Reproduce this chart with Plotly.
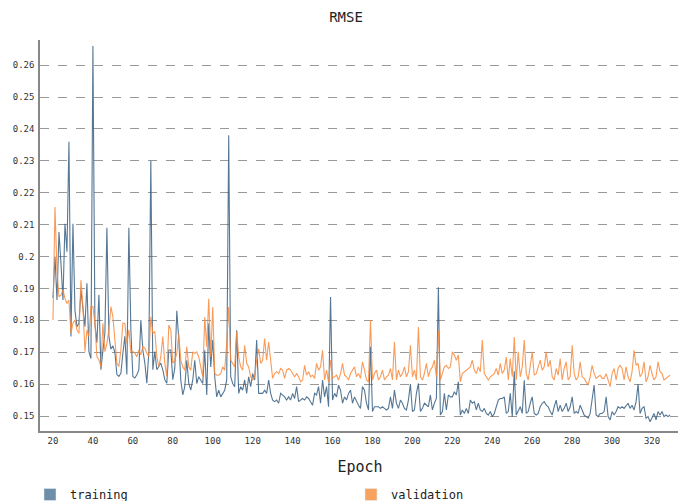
import plotly.graph_objects as go

start_epoch = 20

training = [
    0.187, 0.200, 0.1864, 0.2077, 0.1978, 0.1864, 0.2103, 0.2015, 0.236, 0.1749,
    0.2103, 0.1832, 0.178, 0.1791, 0.1895, 0.1832, 0.178, 0.1916, 0.1702, 0.168,
    0.266, 0.179, 0.173, 0.188, 0.1645, 0.1705, 0.176, 0.209, 0.175, 0.171,
    0.172, 0.170, 0.163, 0.1624, 0.1634, 0.1697, 0.175, 0.163, 0.209, 0.177,
    0.1624, 0.1619, 0.1629, 0.1645, 0.1801, 0.1707, 0.1666, 0.1603, 0.1702, 0.230,
    0.1645, 0.1702, 0.1645, 0.1655, 0.1666, 0.1645, 0.1614, 0.1603, 0.1707, 0.1707,
    0.1614, 0.165, 0.183, 0.174, 0.1613, 0.1566, 0.1592, 0.1675, 0.1602, 0.1581,
    0.1613, 0.1675, 0.1602, 0.1623, 0.1613, 0.1602, 0.1706, 0.1566, 0.179, 0.1654,
    0.1738, 0.1623, 0.156, 0.1581, 0.156, 0.1571, 0.1581, 0.1613, 0.238, 0.1623,
    0.1602, 0.1592, 0.1769, 0.1571, 0.1592, 0.1581, 0.1613, 0.1571, 0.1623, 0.1592,
    0.1633, 0.1613, 0.1738, 0.1571, 0.1571, 0.1571, 0.1581, 0.1571, 0.1613, 0.1571,
    0.155, 0.1545, 0.155, 0.154, 0.1571, 0.1566, 0.156, 0.155, 0.156, 0.155,
    0.1571, 0.1555, 0.1592, 0.1545, 0.155, 0.1555, 0.155, 0.156, 0.1555, 0.1545,
    0.1534, 0.1571, 0.1566, 0.1592, 0.154, 0.1613, 0.156, 0.1592, 0.1529, 0.1873,
    0.155, 0.1571, 0.156, 0.1597, 0.1581, 0.154, 0.156, 0.155, 0.1571, 0.1581,
    0.154, 0.156, 0.1545, 0.1534, 0.1524, 0.1592, 0.1581, 0.154, 0.1519, 0.1717,
    0.1514, 0.1529, 0.1529, 0.1529, 0.1524, 0.1529, 0.1524, 0.1519, 0.1524, 0.156,
    0.1524, 0.1581, 0.154, 0.1524, 0.155, 0.154, 0.1524, 0.1519, 0.155, 0.160,
    0.1514, 0.1519, 0.1571, 0.1602, 0.1514, 0.1524, 0.154, 0.1534, 0.1529, 0.1566,
    0.1519, 0.154, 0.1555, 0.1904, 0.1503, 0.1514, 0.1571, 0.1519, 0.1566, 0.156,
    0.156, 0.1576, 0.1566, 0.1607, 0.1503, 0.1519, 0.1508, 0.1524, 0.1508, 0.155,
    0.154, 0.1545, 0.1519, 0.154, 0.1519, 0.1514, 0.1524, 0.1508, 0.1503, 0.1514,
    0.1498, 0.1508, 0.1534, 0.155, 0.1555, 0.1555, 0.156, 0.1508, 0.1514, 0.1571,
    0.1498, 0.164, 0.1503, 0.1514, 0.1529, 0.1508, 0.1612, 0.1508, 0.1514, 0.154,
    0.156, 0.1508, 0.1503, 0.1508, 0.1529, 0.154, 0.1545, 0.1534, 0.1529, 0.1514,
    0.1503, 0.1529, 0.155, 0.1514, 0.1534, 0.1514, 0.1524, 0.154, 0.1514, 0.1529,
    0.156, 0.1508, 0.1514, 0.1508, 0.1534, 0.1519, 0.1503, 0.1498, 0.1493, 0.1508,
    0.155, 0.1597, 0.1503, 0.1498, 0.1508, 0.1508, 0.1514, 0.156, 0.1498, 0.1488,
    0.1514, 0.1503, 0.1514, 0.1529, 0.1524, 0.1529, 0.1524, 0.1534, 0.154, 0.1524,
    0.1534, 0.1519, 0.1545, 0.160, 0.1508, 0.1524, 0.1529, 0.1493, 0.1498, 0.1482,
    0.1493, 0.1508, 0.1488, 0.1514, 0.1503, 0.1514, 0.1498, 0.1503, 0.1498, 0.1503,
]

validation = [
    0.1801, 0.2155, 0.1957, 0.1874, 0.1879, 0.1895, 0.1869, 0.1853, 0.1864, 0.1759,
    0.1791, 0.1801, 0.177, 0.1759, 0.1926, 0.1843, 0.1702, 0.177, 0.1749, 0.1843,
    0.1843, 0.1791, 0.1686, 0.1676, 0.1655, 0.1791, 0.1702, 0.1728, 0.177, 0.1843,
    0.1811, 0.1728, 0.1666, 0.1655, 0.1707, 0.1791, 0.1791, 0.1728, 0.177, 0.1702,
    0.1702, 0.1697, 0.1686, 0.1707, 0.1692, 0.1718, 0.1713, 0.1697, 0.1686, 0.1811,
    0.1759, 0.1765, 0.1686, 0.1655, 0.1686, 0.1749, 0.1666, 0.1624, 0.1785, 0.177,
    0.1666, 0.1675, 0.1696, 0.1758, 0.1675, 0.1654, 0.1644, 0.1717, 0.1654, 0.1644,
    0.1701, 0.1696, 0.1701, 0.1685, 0.1654, 0.1623, 0.181, 0.1717, 0.1868, 0.1685,
    0.1842, 0.1633, 0.1628, 0.1628, 0.1633, 0.1654, 0.1644, 0.1727, 0.1842, 0.1675,
    0.1665, 0.1654, 0.1764, 0.1685, 0.1654, 0.1644, 0.1722, 0.1665, 0.1654, 0.1623,
    0.1613, 0.1623, 0.1675, 0.1711, 0.1665, 0.1675, 0.1743, 0.1675, 0.1732, 0.1665,
    0.1618, 0.1633, 0.1639, 0.1633, 0.1649, 0.1644, 0.1618, 0.1644, 0.1649, 0.1644,
    0.1633, 0.1623, 0.1633, 0.1623, 0.1607, 0.1613, 0.1659, 0.1628, 0.1639, 0.1623,
    0.1628, 0.1618, 0.1665, 0.1644, 0.1654, 0.1706, 0.1613, 0.1644, 0.1607, 0.1675,
    0.1618, 0.1623, 0.1628, 0.1613, 0.1633, 0.1665, 0.1628, 0.1623, 0.1613, 0.1633,
    0.1644, 0.1654, 0.1623, 0.1633, 0.1618, 0.167, 0.1644, 0.1613, 0.1607, 0.180,
    0.1613, 0.1633, 0.1644, 0.1613, 0.1623, 0.1644, 0.1613, 0.1623, 0.1628, 0.1649,
    0.1613, 0.1732, 0.1613, 0.1644, 0.1623, 0.1633, 0.1654, 0.1623, 0.1639, 0.1722,
    0.1623, 0.1644, 0.1613, 0.1779, 0.1623, 0.1613, 0.1633, 0.1665, 0.1623, 0.1644,
    0.1654, 0.1675, 0.1623, 0.1769, 0.1613, 0.1633, 0.1654, 0.1659, 0.1649, 0.1654,
    0.1701, 0.1691, 0.1675, 0.1691, 0.1607, 0.1633, 0.1639, 0.1644, 0.1649, 0.1654,
    0.1675, 0.1644, 0.1633, 0.1654, 0.1639, 0.1738, 0.1633, 0.1623, 0.1613, 0.1623,
    0.1628, 0.1633, 0.1649, 0.1628, 0.1665, 0.1633, 0.1644, 0.1685, 0.1613, 0.168,
    0.1623, 0.1748, 0.1613, 0.1701, 0.1623, 0.1654, 0.1738, 0.1633, 0.1613, 0.1654,
    0.1701, 0.1628, 0.1633, 0.1654, 0.1675, 0.1644, 0.1654, 0.1701, 0.1654, 0.1675,
    0.1623, 0.1613, 0.1649, 0.1628, 0.168, 0.1613, 0.1649, 0.167, 0.1613, 0.1623,
    0.1722, 0.1633, 0.1613, 0.1623, 0.167, 0.1623, 0.1618, 0.1607, 0.1597, 0.1623,
    0.1659, 0.1633, 0.1618, 0.1623, 0.1628, 0.1618, 0.1618, 0.1633, 0.1613, 0.1592,
    0.1633, 0.1649, 0.1613, 0.1649, 0.1659, 0.1649, 0.1613, 0.1654, 0.1623, 0.1607,
    0.1639, 0.1706, 0.1659, 0.1665, 0.1623, 0.1633, 0.167, 0.1607, 0.1623, 0.1659,
    0.1633, 0.1613, 0.1623, 0.167, 0.1639, 0.1633, 0.1613, 0.1618, 0.1623, 0.1628,
]

x_ticks = [20, 40, 60, 80, 100, 120, 140, 160, 180, 200, 220, 240, 260, 280, 300, 320]
y_ticks = [0.15, 0.16, 0.17, 0.18, 0.19, 0.2, 0.21, 0.22, 0.23, 0.24, 0.25, 0.26]

epochs_train = list(range(start_epoch, start_epoch + len(training)))
epochs_val = list(range(start_epoch, start_epoch + len(validation)))

FONT = "DejaVu Sans Mono"
train_line = "rgba(55,95,130,0.85)"
val_line = "rgba(248,138,60,0.85)"
train_leg = "#6f8fa9"
val_leg = "#f7a35f"

# the page body has an 8px default margin, so the figure is sized to fit the window
W, H = 678, 493

fig = go.Figure()
fig.add_trace(go.Scatter(x=epochs_train, y=training, mode="lines", name="training",
                         line=dict(color=train_line, width=1.1), showlegend=False))
fig.add_trace(go.Scatter(x=epochs_val, y=validation, mode="lines", name="validation",
                         line=dict(color=val_line, width=1.1), showlegend=False))
# legend swatches
fig.add_trace(go.Bar(x=[None], y=[None], name="training", marker_color=train_leg,
                     legend="legend"))
fig.add_trace(go.Bar(x=[None], y=[None], name="validation", marker_color=val_leg,
                     legend="legend2"))

leg_common = dict(orientation="h", xref="container", xanchor="left",
                  yref="container", y=1 - 472 / H, yanchor="top",
                  font=dict(family=FONT, size=12, color="#222"),
                  bgcolor="rgba(0,0,0,0)")

fig.update_layout(
    width=W, height=H,
    margin=dict(l=32, r=6, t=32, b=70, autoexpand=False),
    paper_bgcolor="white", plot_bgcolor="white",
    font=dict(family=FONT, color="#333"),
    title=dict(text="RMSE", x=(346 - 8) / W, xanchor="center", y=1 - 9 / H, yanchor="middle",
               font=dict(family=FONT, size=14, color="#222")),
    showlegend=True,
    legend=dict(x=22 / W, **leg_common),
    legend2=dict(x=343 / W, **leg_common),
    xaxis=dict(range=[13.5, 334], tickvals=x_ticks, showgrid=False, zeroline=False,
               showline=True, linecolor="#888", linewidth=1.5,
               ticks="",
               tickfont=dict(family=FONT, size=9, color="#333"),
               title=dict(text="Epoch", font=dict(family=FONT, size=15, color="#222"), standoff=17)),
    yaxis=dict(range=[0.1453, 0.2679], tickvals=y_ticks, showgrid=True,
               gridcolor="#999", griddash="dash", gridwidth=1, zeroline=False,
               showline=True, linecolor="#888", linewidth=1.5,
               ticks="outside", ticklen=2, tickcolor="rgba(0,0,0,0)",
               tickfont=dict(family=FONT, size=9, color="#333")),
)

fig.write_html("out.html")
